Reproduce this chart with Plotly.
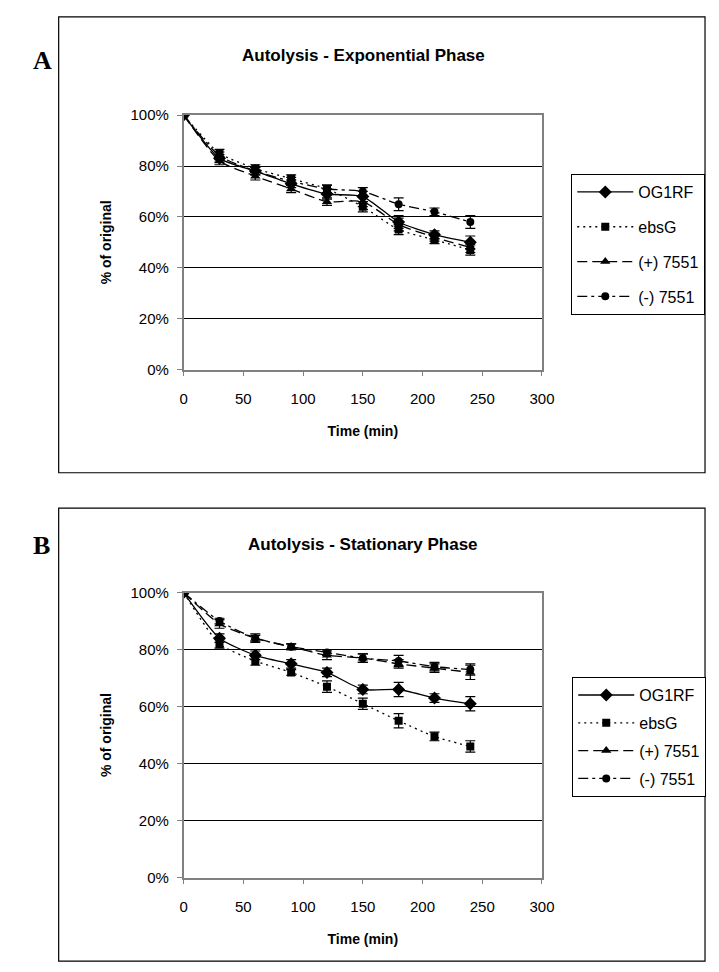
import plotly.graph_objects as go

W, H = 719, 972

time_min = [0, 30, 60, 90, 120, 150, 180, 210, 240]
series_names = ["OG1RF", "ebsG", "(+) 7551", "(-) 7551"]

# Panel A - Exponential phase (% of original)
exp_og1rf = [100, 83, 78, 73, 69, 68, 58, 53, 50]
exp_ebsg = [100, 85, 79, 75, 71, 64, 55, 51, 47]
exp_plus = [100, 82, 76, 71, 66, 66, 57, 52, 48]
exp_minus = [100, 84, 78, 74, 71, 70, 65, 62, 58]
exp_og1rf_err = [0, 1.5, 1.5, 1.5, 2, 2, 2.5, 1.5, 2.5]
exp_ebsg_err = [0, 1.5, 1.5, 1.5, 1.5, 2, 2, 1.5, 2]
exp_plus_err = [0, 1.5, 1.5, 1.5, 1.5, 2, 2.5, 1.5, 2]
exp_minus_err = [0, 1.5, 1.5, 1.5, 1.5, 1.5, 2.5, 1.5, 2.5]

# Panel B - Stationary phase (% of original)
sta_og1rf = [100, 84, 78, 75, 72, 66, 66, 63, 61]
sta_ebsg = [100, 82, 76, 72, 67, 61, 55, 49.5, 46]
sta_plus = [100, 89, 84, 81, 78, 77, 75, 73.5, 72]
sta_minus = [100, 90, 84, 81, 79, 77, 76, 74, 73]
sta_og1rf_err = [0, 1.5, 1.5, 1.5, 1.5, 1.5, 2.5, 1.5, 2.5]
sta_ebsg_err = [0, 1.5, 1.5, 1, 2, 2, 2.5, 1.5, 2]
sta_plus_err = [0, 1.5, 1.5, 1, 1.5, 1.5, 1.5, 1.5, 2.5]
sta_minus_err = [0, 1, 1, 1, 1, 1.5, 2, 1.5, 2]

x_ticks = [0, 50, 100, 150, 200, 250, 300]
y_ticks = [0, 20, 40, 60, 80, 100]
y_tick_labels = ["0%", "20%", "40%", "60%", "80%", "100%"]

styles = [
    dict(dash="solid", symbol="diamond", size=10),
    dict(dash="2px,4px", symbol="square", size=8),
    dict(dash="10px,5px", symbol="triangle-up", size=9),
    dict(dash="10px,4px,3px,4px", symbol="circle", size=8),
]

FONT = "Liberation Sans, Arial, sans-serif"


def px(x):
    return x / W


def py(y):
    return 1 - y / H


fig = go.Figure()

panels = [
    dict(vals=[exp_og1rf, exp_ebsg, exp_plus, exp_minus],
         errs=[exp_og1rf_err, exp_ebsg_err, exp_plus_err, exp_minus_err],
         xa="x", ya="y", legend="legend"),
    dict(vals=[sta_og1rf, sta_ebsg, sta_plus, sta_minus],
         errs=[sta_og1rf_err, sta_ebsg_err, sta_plus_err, sta_minus_err],
         xa="x2", ya="y2", legend="legend2"),
]

for p in panels:
    for name, v, e, st in zip(series_names, p["vals"], p["errs"], styles):
        fig.add_trace(go.Scatter(
            x=time_min, y=v, name=name, mode="lines+markers",
            xaxis=p["xa"], yaxis=p["ya"], legend=p["legend"],
            legendgroup=p["legend"] + name,
            line=dict(color="black", width=1.3, dash=st["dash"], shape="spline", smoothing=0.6),
            marker=dict(color="black", symbol=st["symbol"], size=st["size"]),
            error_y=dict(type="data", array=e, visible=True, color="black", thickness=1.2, width=5),
        ))

axis_common_x = dict(range=[0, 300], tickvals=x_ticks, ticks="outside", ticklen=5,
                     tickcolor="#808080", showline=True, linecolor="#808080", linewidth=1.5,
                     mirror=True, showgrid=False, zeroline=False, ticklabelstandoff=10,
                     tickfont=dict(family=FONT, size=15, color="black"))
axis_common_y = dict(range=[0, 100], tickvals=y_ticks, ticktext=y_tick_labels, ticks="outside",
                     ticklen=5, tickcolor="#808080", showline=True, linecolor="#808080",
                     linewidth=1.5, mirror=True, showgrid=True, gridcolor="black",
                     gridwidth=1, zeroline=False, ticklabelstandoff=5,
                     tickfont=dict(family=FONT, size=15, color="black"))

title_font = dict(family=FONT, size=14, color="black")
xdom = [px(184), px(551)]
fig.update_layout(
    width=W, height=H,
    margin=dict(l=0, r=0, t=0, b=0),
    paper_bgcolor="white", plot_bgcolor="white",
    xaxis=dict(domain=xdom, anchor="y", **axis_common_x,
               title=dict(text="<b>Time (min)</b>", font=title_font, standoff=20)),
    yaxis=dict(domain=[py(367), py(108)], anchor="x", **axis_common_y,
               title=dict(text="<b>% of original</b>", font=title_font, standoff=16)),
    xaxis2=dict(domain=xdom, anchor="y2", **axis_common_x,
                title=dict(text="<b>Time (min)</b>", font=title_font, standoff=20)),
    yaxis2=dict(domain=[py(884), py(594)], anchor="x2", **axis_common_y,
                title=dict(text="<b>% of original</b>", font=title_font, standoff=16)),
    legend=dict(x=px(581), y=py(168), xanchor="left", yanchor="top",
                bordercolor="black", borderwidth=1, bgcolor="white", itemwidth=56,
                font=dict(family=FONT, size=16, color="black"), tracegroupgap=11),
    legend2=dict(x=px(582), y=py(680), xanchor="left", yanchor="top",
                 bordercolor="black", borderwidth=1, bgcolor="white", itemwidth=56,
                 font=dict(family=FONT, size=16, color="black"), tracegroupgap=4),
    showlegend=True,
)

# chart frames
for y0, y1 in [(8, 472), (508, 969)]:
    fig.add_shape(type="rect", xref="paper", yref="paper",
                  x0=px(56), x1=px(718), y0=py(y1), y1=py(y0),
                  line=dict(color="black", width=1.2), fillcolor="rgba(0,0,0,0)", layer="below")

for txt, y in [("A", 36), ("B", 546)]:
    fig.add_annotation(text=f"<b>{txt}</b>", x=px(28), y=py(y), xref="paper", yref="paper",
                       showarrow=False,
                       font=dict(family="Liberation Serif, Times New Roman, serif", size=26, color="black"))

for txt, y in [("Autolysis - Exponential Phase", 36), ("Autolysis - Stationary Phase", 545)]:
    fig.add_annotation(text=f"<b>{txt}</b>", x=px(368), y=py(y), xref="paper", yref="paper",
                       showarrow=False, font=dict(family=FONT, size=17, color="black"))

fig.write_html("out.html")
